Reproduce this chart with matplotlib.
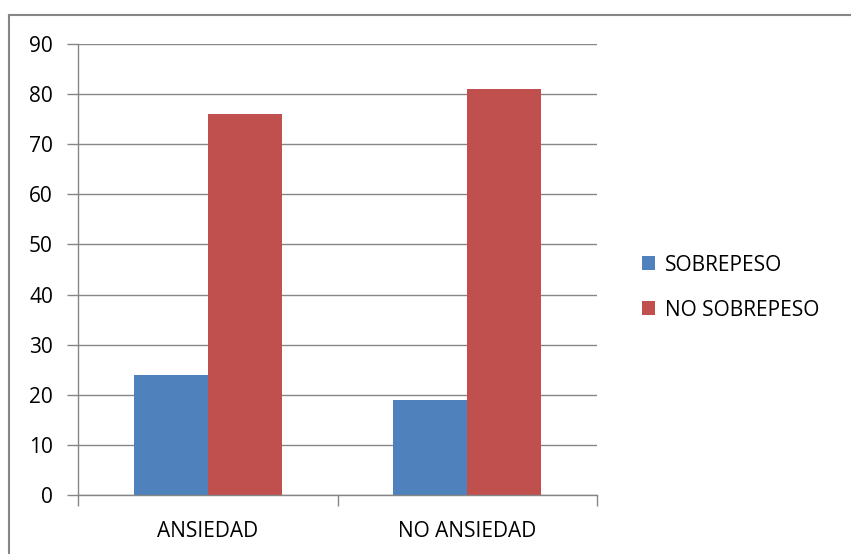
import numpy as np
import matplotlib
matplotlib.use("Agg")
import matplotlib.pyplot as plt
from matplotlib.lines import Line2D

categories = ["ANSIEDAD", "NO ANSIEDAD"]
series_names = ["SOBREPESO", "NO SOBREPESO"]
sobrepeso = [24, 19]
no_sobrepeso = [76, 81]
y_ticks = list(range(0, 91, 10))

colors = ["#4F81BD", "#C0504D"]
grid_col = "#868686"

plt.rcParams['font.family'] = ['Open Sans', 'DejaVu Sans']

fig = plt.figure(figsize=(8.51, 5.54), dpi=100)
ax = fig.add_axes([78 / 851, 1 - 495 / 554, (597 - 78) / 851, (495 - 44) / 554])

x = np.arange(len(categories))
w = 0.285
ax.bar(x - w / 2, sobrepeso, w, color=colors[0], label=series_names[0])
ax.bar(x + w / 2, no_sobrepeso, w, color=colors[1], label=series_names[1])

ax.set_xlim(-0.5, len(categories) - 0.5)
ax.set_ylim(0, 90)
ax.set_yticks(y_ticks)
ax.yaxis.grid(True, color=grid_col, linewidth=1)
ax.set_axisbelow(True)

ax.set_xticks(x)
ax.set_xticklabels(categories, fontsize=15)
ax.set_xticks(np.arange(len(categories) + 1) - 0.5, minor=True)
ax.tick_params(axis='x', which='major', length=0, pad=19)
ax.tick_params(axis='x', which='minor', length=8, color=grid_col, width=1)
ax.tick_params(axis='y', length=8, color=grid_col, width=1, labelsize=15, pad=10)

for s in ['top', 'right']:
    ax.spines[s].set_visible(False)
for s in ['left', 'bottom']:
    ax.spines[s].set_color(grid_col)
    ax.spines[s].set_linewidth(1)

ax.legend(loc='center left', bbox_to_anchor=(1.05, 0.46), frameon=False,
          fontsize=15, handlelength=0.65, handleheight=0.65, handletextpad=0.45,
          labelspacing=1.15)

# outer chart frame (only top and left visible in the crop)
fig.add_artist(Line2D([9 / 851, 9 / 851], [0, 1 - 15 / 554], color=grid_col, lw=1.5))
fig.add_artist(Line2D([9 / 851, 1], [1 - 15 / 554, 1 - 15 / 554], color=grid_col, lw=1.5))

fig.savefig("out.png", dpi=100)
